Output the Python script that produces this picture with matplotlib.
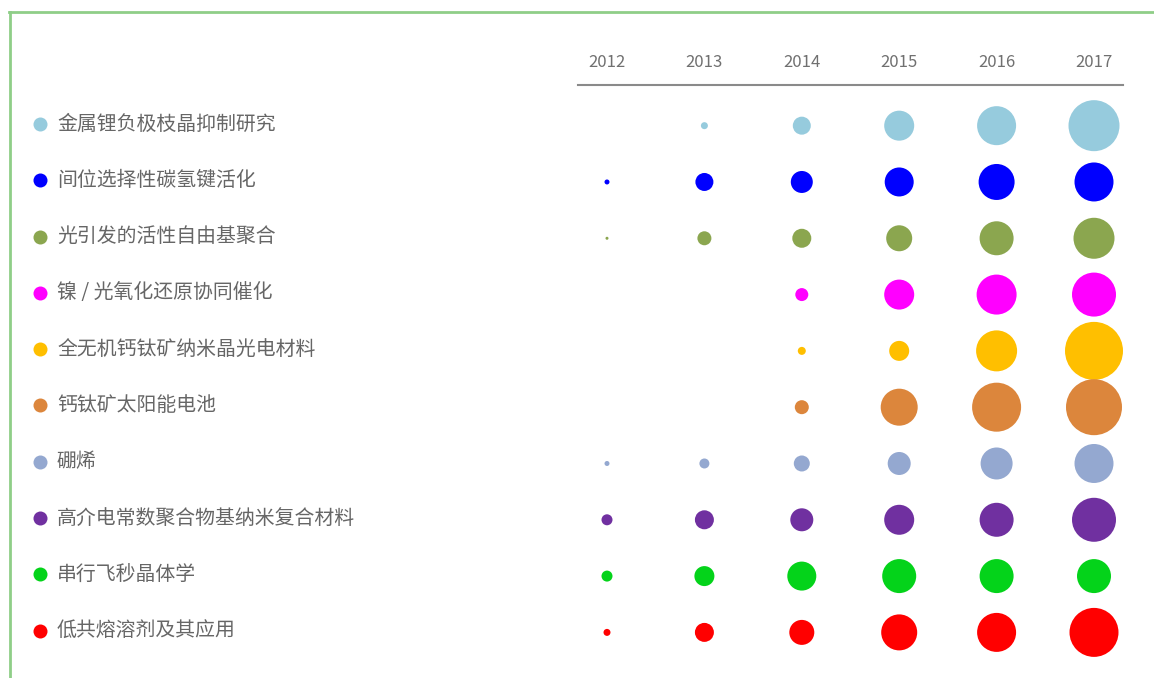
import numpy as np
import matplotlib.pyplot as plt
from matplotlib.lines import Line2D

plt.rcParams['font.family'] = ['Noto Sans CJK SC', 'DejaVu Sans']

years = ['2012', '2013', '2014', '2015', '2016', '2017']

topics = ['金属锂负极枝晶抑制研究', '间位选择性碳氢键活化', '光引发的活性自由基聚合',
          '镍 / 光氧化还原协同催化', '全无机钙钛矿纳米晶光电材料', '钙钛矿太阳能电池',
          '硼烯', '高介电常数聚合物基纳米复合材料', '串行飞秒晶体学', '低共熔溶剂及其应用']

colors = ['#96cbdd', '#0000ff', '#8ba64f', '#ff00ff', '#ffbf00',
          '#dc863c', '#94a8d0', '#7030a0', '#04d31a', '#ff0000']

# bubble size (diameter) per topic and year, nan = no bubble
sizes = [
    [np.nan, 7, 18, 30, 39, 51],
    [5, 18, 22, 29, 36, 39],
    [3, 14, 19, 26, 34, 41],
    [np.nan, np.nan, 13, 30, 40, 44],
    [np.nan, np.nan, 8, 20, 41, 58],
    [np.nan, np.nan, 14, 37, 49, 56],
    [5, 10, 16, 23, 32, 39],
    [11, 19, 23, 30, 34, 44],
    [11, 20, 29, 34, 34, 34],
    [7, 19, 25, 36, 39, 49],
]

fig = plt.figure(figsize=(11.54, 6.78), dpi=100)
ax = fig.add_axes([0, 0, 1, 1])
ax.set_xlim(-6.232, 5.616)
ax.set_ylim(9.84, -2.202)
ax.axis('off')

xs = np.arange(len(years))
for i, (row, c) in enumerate(zip(sizes, colors)):
    d = np.array(row, dtype=float)
    ok = ~np.isnan(d)
    ax.scatter(xs[ok], np.full(ok.sum(), i + 0.03), s=(d[ok] * 0.72) ** 2,
               marker='o', color=c, linewidths=0)
    # legend dot + label
    ax.scatter([0.0347], [i], s=(14 * 0.72) ** 2, color=c, linewidths=0,
               transform=ax.get_yaxis_transform())
    ax.text(0.0494, i, topics[i], transform=ax.get_yaxis_transform(),
            fontsize=14.3, color='#666666', va='center', ha='left')

for x, yr in zip(xs, years):
    ax.text(x, -1.1, yr, fontsize=12, color='#707070', ha='center',
            va='center', fontweight='light')
ax.plot([-0.3, 5.3], [-0.693, -0.693], color='#8a8a8a', lw=1.5)

# green frame on left and top
g = '#8fce88'
fig.add_artist(Line2D([10 / 1154, 10 / 1154], [0, 1 - 12 / 678], color=g, lw=2))
fig.add_artist(Line2D([9.3 / 1154, 1], [1 - 12 / 678, 1 - 12 / 678], color=g, lw=2))

fig.savefig('out.png', dpi=100, facecolor='white')
